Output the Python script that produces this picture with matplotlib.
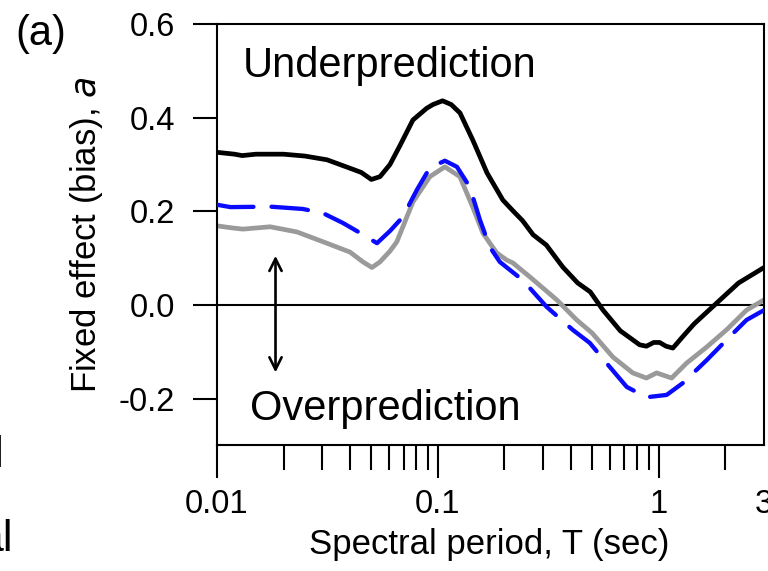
import numpy as np
import matplotlib.pyplot as plt
from matplotlib.ticker import FixedLocator, NullFormatter

plt.rcParams['font.family'] = ['Liberation Sans', 'DejaVu Sans']

# fixed effect a vs spectral period (three model cases)
T_black = [0.01, 0.012, 0.013, 0.015, 0.02, 0.025, 0.0315, 0.04, 0.045, 0.050,
           0.0547, 0.0607, 0.0673, 0.0771, 0.089, 0.095, 0.105, 0.115, 0.126,
           0.144, 0.167, 0.197, 0.22, 0.242, 0.27, 0.31, 0.368, 0.43, 0.49,
           0.56, 0.67, 0.82, 0.88, 0.95, 1.01, 1.08, 1.16, 1.3, 1.45, 1.83,
           2.3, 3.0]
a_black = [0.326, 0.322, 0.319, 0.322, 0.322, 0.318, 0.310, 0.292, 0.283, 0.268,
           0.274, 0.300, 0.340, 0.395, 0.420, 0.428, 0.436, 0.428, 0.410,
           0.352, 0.282, 0.224, 0.200, 0.180, 0.150, 0.128, 0.081, 0.047, 0.028,
           -0.011, -0.055, -0.085, -0.088, -0.080, -0.080, -0.088, -0.092,
           -0.065, -0.040, 0.004, 0.047, 0.080]

T_gray = [0.01, 0.0115, 0.0131, 0.0174, 0.023, 0.0302, 0.040, 0.0458, 0.0503,
          0.0547, 0.0607, 0.0652, 0.0771, 0.092, 0.1076, 0.1258, 0.1439, 0.1598,
          0.172, 0.185, 0.205, 0.2185, 0.261, 0.3455, 0.4256, 0.50, 0.62, 0.763,
          0.88, 0.979, 1.145, 1.339, 1.648, 2.03, 2.5, 3.0]
a_gray = [0.169, 0.165, 0.162, 0.167, 0.156, 0.135, 0.113, 0.092, 0.080,
          0.092, 0.115, 0.135, 0.220, 0.274, 0.295, 0.274, 0.209, 0.154,
          0.132, 0.111, 0.096, 0.090, 0.060, 0.011, -0.032, -0.060, -0.111, -0.145,
          -0.156, -0.145, -0.156, -0.124, -0.090, -0.053, -0.011, 0.011]

T_blue = [0.01, 0.0115, 0.0174, 0.0245, 0.0302, 0.0372, 0.0444, 0.053, 0.0607,
          0.0694, 0.0804, 0.092, 0.1076, 0.122, 0.1395, 0.155, 0.1718, 0.1908,
          0.2424, 0.311, 0.408, 0.4875, 0.60, 0.717, 0.882, 1.087, 1.284, 1.648,
          2.095, 2.5, 3.0]
a_blue = [0.214, 0.209, 0.210, 0.205, 0.196, 0.175, 0.154, 0.132, 0.158,
          0.188, 0.246, 0.293, 0.308, 0.295, 0.252, 0.182, 0.124, 0.092,
          0.053, -0.004, -0.053, -0.081, -0.132, -0.175, -0.197, -0.192, -0.167,
          -0.118, -0.068, -0.032, -0.011]

xticks = [0.01, 0.1, 1, 3]
xticklabels = ['0.01', '0.1', '1', '3']
xminor = [0.02, 0.03, 0.04, 0.05, 0.06, 0.07, 0.08, 0.09,
          0.2, 0.3, 0.4, 0.5, 0.6, 0.7, 0.8, 0.9, 2]
yticks = [-0.2, 0.0, 0.2, 0.4, 0.6]
yticklabels = ['-0.2', '0.0', '0.2', '0.4', '0.6']

fig = plt.figure(figsize=(7.68, 5.71), dpi=100)
ax = fig.add_axes([0.2826, 0.2198, 0.7122, 0.7382])

ax.axhline(0, color='black', lw=1.5, zorder=1)
ax.plot(T_gray, a_gray, color='#9a9a9a', lw=3.4, zorder=2,
        solid_joinstyle='round', solid_capstyle='round')
ax.plot(T_blue, a_blue, color='#0a0aff', lw=3.1, ls=(0, (8.5, 4.2)),
        dash_capstyle='round', dash_joinstyle='round', zorder=3)
ax.plot(T_black, a_black, color='black', lw=3.4, zorder=4,
        solid_joinstyle='round', solid_capstyle='round')

ax.annotate('', xy=(0.0184, 0.111), xytext=(0.0184, -0.150),
            arrowprops=dict(arrowstyle='<->', lw=1.9, color='black',
                            mutation_scale=22))

ax.text(0.0475, 0.874, 'Underprediction', transform=ax.transAxes,
        fontsize=30, va='baseline', ha='left')
ax.text(0.060, 0.060, 'Overprediction', transform=ax.transAxes,
        fontsize=30, va='baseline', ha='left')

ax.set_xscale('log')
ax.set_xlim(0.01, 3)
ax.set_ylim(-0.3, 0.6)
ax.set_xticks(xticks)
ax.set_xticklabels(xticklabels)
ax.xaxis.set_minor_locator(FixedLocator(xminor))
ax.xaxis.set_minor_formatter(NullFormatter())
ax.set_yticks(yticks)
ax.set_yticklabels(yticklabels)

ax.tick_params(axis='x', which='major', length=23.5, width=1.5, pad=8,
               labelsize=23.5, direction='out')
ax.tick_params(axis='x', which='minor', length=18, width=1.5, direction='out')
ax.tick_params(axis='y', which='major', length=17, width=1.5, pad=13,
               labelsize=23.5, direction='out')
# no tick mark at the right end
ax.xaxis.get_major_ticks()[-1].tick1line.set_visible(False)

for s in ax.spines.values():
    s.set_linewidth(1.5)

ax.set_xlabel('Spectral period, T (sec)', fontsize=25)
ax.set_ylabel('Fixed effect (bias), $\\it{a}$', fontsize=25)
ax.xaxis.set_label_coords(0.497, -0.195)
ax.yaxis.set_label_coords(-0.205, 0.5)

fig.text(15 / 768, 1 - 45 / 571, '(a)', fontsize=30, va='baseline', ha='left')
# edges of the neighbouring panel's text
fig.text(4 / 768, 1 - 467 / 571, 'l', fontsize=32, va='baseline', ha='right')
fig.text(13 / 768, 1 - 551 / 571, 'al', fontsize=32, va='baseline', ha='right')

fig.savefig('out.png', dpi=100)
